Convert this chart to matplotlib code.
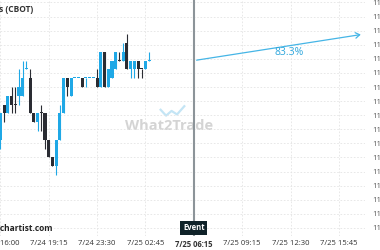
import matplotlib
matplotlib.use("Agg")
import matplotlib.pyplot as plt
from matplotlib.patches import FancyArrowPatch

# 15 minute candles, Soybeans (CBOT)
opens = [1131.75, 1132.75, 1132.5, 1133.0, 1132.75, 1133.0, 1133.0, 1133.75, 1133.5, 1132.5,
         1132.25, 1132.5, 1132.5, 1131.75, 1131.25, 1131.0, 1131.75, 1132.5, 1133.5, 1133.0,
         1133.5, 1133.5, 1133.5, 1133.5, 1133.5, 1133.5, 1133.5, 1133.25, 1134.25, 1133.25,
         1133.5, 1133.75, 1134.0, 1134.0, 1134.5, 1133.75, 1133.75, 1134.0, 1133.75, 1133.75,
         1134.0]
highs = [1132.5, 1132.75, 1133.0, 1133.25, 1133.25, 1133.75, 1134.0, 1134.0, 1133.75, 1132.5,
         1132.5, 1132.75, 1132.5, 1131.75, 1131.25, 1131.75, 1132.75, 1133.5, 1133.5, 1133.5,
         1133.5, 1133.5, 1133.5, 1133.5, 1133.5, 1133.5, 1133.75, 1134.25, 1134.25, 1133.75,
         1134.0, 1134.25, 1134.25, 1134.5, 1134.75, 1134.0, 1134.0, 1134.0, 1133.75, 1134.0,
         1134.25]
lows = [1131.5, 1132.25, 1132.5, 1132.5, 1132.5, 1132.75, 1133.0, 1133.75, 1132.5, 1132.25,
        1132.0, 1132.0, 1131.5, 1131.25, 1131.0, 1130.75, 1131.75, 1132.5, 1133.0, 1133.0,
        1133.5, 1133.5, 1133.25, 1133.25, 1133.5, 1133.5, 1133.25, 1133.25, 1133.25, 1133.25,
        1133.5, 1133.75, 1134.0, 1134.0, 1133.75, 1133.5, 1133.5, 1133.5, 1133.5, 1133.75,
        1134.0]
closes = [1132.5, 1132.5, 1133.0, 1132.75, 1132.75, 1133.25, 1133.5, 1133.75, 1132.5, 1132.25,
          1132.5, 1132.5, 1131.75, 1131.25, 1131.0, 1131.75, 1132.5, 1133.5, 1133.25, 1133.5,
          1133.5, 1133.5, 1133.25, 1133.5, 1133.5, 1133.5, 1133.25, 1134.25, 1133.25, 1133.75,
          1134.0, 1134.25, 1134.0, 1134.25, 1133.75, 1134.0, 1134.0, 1133.75, 1133.75, 1134.0,
          1134.0]
bearish_doji = [4, 11, 32, 38]

tick_pos = [0, 13, 26, 39, 52, 65, 78, 91]
tick_labels = ["7/24 16:00", "7/24 19:15", "7/24 23:30", "7/25 02:45",
               "7/25 06:15", "7/25 09:15", "7/25 12:30", "7/25 15:45"]
event_bar = 52
price_ticks = [1135.65, 1135.25, 1134.85, 1134.45, 1134.05, 1133.65, 1133.25, 1132.85, 1132.45,
               1132.05, 1131.65, 1131.25, 1130.85, 1130.45, 1130.05, 1129.65, 1129.25]

# forecast arrow
arrow_from = (52, 1134.0)
arrow_to = (97.6, 1134.75)
prob_text = "83.3%"
prob_pos = (77.5, 1134.22)

BLUE = "#1fa8e6"
DARK = "#2a2c33"

plt.rcParams['font.family'] = ['Open Sans', 'DejaVu Sans']

fig = plt.figure(figsize=(3.8, 2.5), dpi=100)
ax = fig.add_axes([0, 14 / 250, 365 / 380, 236 / 250])

for i in range(len(opens)):
    o, h, l, c = opens[i], highs[i], lows[i], closes[i]
    col = BLUE if c >= o and i not in bearish_doji else DARK
    ax.vlines(i, l, h, color=col, lw=0.8, zorder=3)
    body = abs(c - o)
    if body == 0:
        body = 0.03
    ax.bar(i, body, bottom=min(o, c), width=0.82, color=col, lw=0, zorder=4)

ax.set_xlim(-0.1, 98.0)
ax.set_ylim(1129.02, 1135.72)

for s in ax.spines.values():
    s.set_visible(False)

ax.set_xticks(tick_pos)
ax.set_xticklabels(tick_labels, fontsize=5.5, color="#333333")
for lab in ax.get_xticklabels():
    if lab.get_text() == "7/25 06:15":
        lab.set_fontweight("bold")
ax.set_yticks(price_ticks)
ax.set_yticklabels([f"{v:.2f}" for v in price_ticks], fontsize=5.5, color="#555555")
ax.yaxis.tick_right()
ax.tick_params(axis="both", length=0)
ax.tick_params(axis="x", pad=3)
ax.tick_params(axis="y", pad=5)
ax.grid(True, color="#e4e4e4", lw=0.6, ls=(0, (2, 2)), zorder=0)

# event marker
ax.axvline(event_bar, color="#8c9499", lw=1.5, zorder=5)
ax.text(event_bar, 1129.25, "Event", color="white", fontsize=5.5, fontweight="bold",
        ha="center", va="center", zorder=6,
        bbox=dict(boxstyle="square,pad=0.35", fc="#0f2229", ec="none"))

arr = FancyArrowPatch(arrow_from, arrow_to, arrowstyle="->,head_length=3,head_width=2",
                      color="#45b5e6", lw=0.9, zorder=6)
ax.add_patch(arr)
ax.text(prob_pos[0], prob_pos[1], prob_text, color="#2ea6dc", fontsize=7.5,
        ha="center", va="center", zorder=6)

# titles and watermarks
ax.text(0.09, 0.958, "Soybeans (CBOT)", transform=ax.transAxes, fontsize=6,
        fontweight="bold", color="#333333", ha="right", va="center")
ax.text(0.145, 0.032, "www.tradingchartist.com", transform=ax.transAxes, fontsize=6,
        fontweight="bold", color="#222222", ha="right", va="center")
ax.text(0.463, 0.466, "What2Trade", transform=ax.transAxes, fontsize=10.5,
        fontweight="bold", color="#d4d4d4", ha="center", va="center", zorder=1)
ax.plot([0.44, 0.455, 0.47, 0.485, 0.505], [0.535, 0.51, 0.53, 0.515, 0.55],
        transform=ax.transAxes, color="#c4e5f5", lw=1.6, zorder=1)

fig.savefig("out.png", dpi=100)
